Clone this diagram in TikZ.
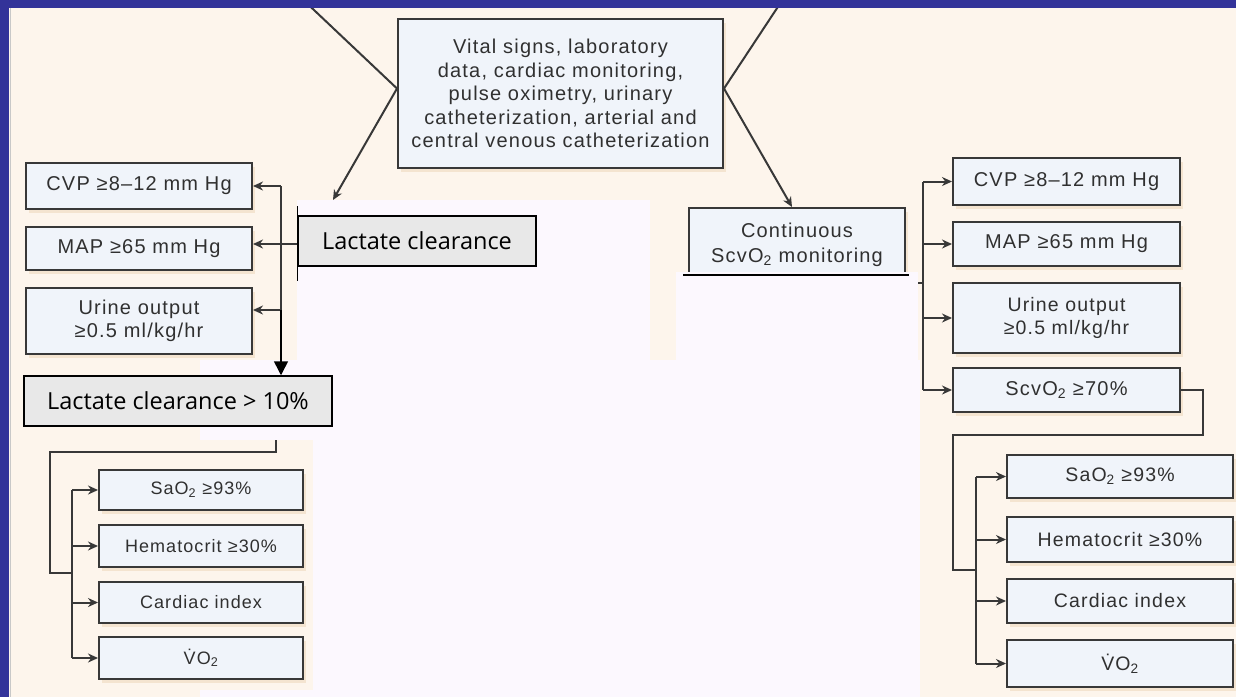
\documentclass[tikz,border=0pt]{standalone}
\usepackage{fontspec}
\setmainfont{Liberation Sans}
\newfontfamily\boxfont[LetterSpace=6.0]{Liberation Sans}
\newfontfamily\lacfont{Open Sans}
\usetikzlibrary{arrows.meta,calc}
\definecolor{frameblue}{HTML}{333399}
\definecolor{beige}{HTML}{FDF5EC}
\definecolor{patch}{HTML}{FCF8FE}
\definecolor{boxfill}{HTML}{F0F4FA}
\definecolor{boxline}{HTML}{383838}
\definecolor{textgray}{HTML}{303030}
\definecolor{shadowc}{HTML}{F4E4D0}
\definecolor{lacgray}{HTML}{E8E8E8}
\definecolor{edgegray}{HTML}{C8C8C8}
\tikzset{
  wh/.style 2 args={minimum width=#1pt, minimum height=#2pt},
  obox/.style={draw=boxline, line width=2pt, fill=boxfill, inner sep=0pt, align=center,
    text=textgray, preaction={draw=none, fill=shadowc, transform canvas={xshift=3pt, yshift=-4pt}}},
  fbig/.style={font=\boxfont\fontsize{20}{23.5}\selectfont},
  fsmall/.style={font=\boxfont\fontsize{18}{22}\selectfont},
  fmid/.style={font=\boxfont\fontsize{19.5}{23}\selectfont},
  lbox/.style={draw=black, line width=1.5pt, fill=lacgray, inner sep=0pt,
    font=\lacfont\fontsize{23.5}{28}\selectfont},
  oline/.style={draw=boxline, line width=2pt},
  oarr/.style={oline, -{Stealth[length=10pt,width=9pt]}},
  nline/.style={draw=black, line width=1.5pt},
  narr/.style={nline, -{Triangle[length=14pt,width=14pt]}},
  patchr/.style={fill=patch, draw=none},
}
\begin{document}
\begin{tikzpicture}[x=1pt, y=-1pt]
\useasboundingbox (0,0) rectangle (1236,697);
\fill[beige] (0,0) rectangle (1236,697);

% ---------- original diagram ----------
\node[obox, fbig, wh={325}{149}] (cb) at (560.5,93.5) {Vital signs, laboratory\\data, cardiac monitoring,\\pulse oximetry, urinary\\catheterization, arterial and\\central venous catheterization};
\coordinate (topL) at (303.4,0);
\coordinate (topR) at (782.4,0);
\coordinate (cbL) at ([yshift=5pt]cb.west);
\coordinate (cbR) at ([yshift=5pt]cb.east);
\coordinate (lat) at (333,200);
\draw[oline] (topL) -- (cbL);
\draw[oline] (topR) -- (cbR);
\draw[oarr] (cbL) -- (lat);

\node[obox, fbig, wh={216}{74}] (cont) at (797,245) {Continuous\\[1.5pt]ScvO\textsubscript{2} monitoring};
\draw[oarr] (cbR) -- ([xshift=-5pt]cont.north);

% left column
\node[obox, fbig, wh={226}{46}] (lcvp) at (139,186) {CVP ≥8–12 mm Hg};
\node[obox, fbig, wh={226}{43}] (lmap) at (139,248.5) {MAP ≥65 mm Hg};
\node[obox, fbig, wh={226}{66}] (lur) at (139,321) {Urine output\\≥0.5 ml/kg/hr};
\coordinate (lvt) at (281,186);
\coordinate (lvb) at (281,310);
\draw[oline] (lvt) -- (lvb);
\draw[oarr] (lvt) -- (lcvp.east);
\draw[oarr] (lvb) -- (lvb -| lur.east);

% right column
\node[obox, fbig, wh={227}{47}] (rcvp) at (1066.5,181.5) {CVP ≥8–12 mm Hg};
\node[obox, fbig, wh={227}{44}] (rmap) at (1066.5,244) {MAP ≥65 mm Hg};
\node[obox, fmid, wh={227}{70}] (rur) at (1066.5,318) {Urine output\\≥0.5 ml/kg/hr};
\node[obox, fbig, wh={227}{44}] (rscv) at (1066.5,390) {ScvO\textsubscript{2} ≥70\%};
\coordinate (rv) at (923,0);
\draw[oline] (rv |- rcvp.west) -- (rv |- rscv.west);
\draw[oarr] (rv |- rcvp.west) -- (rcvp.west);
\draw[oarr] (rv |- rmap.west) -- (rmap.west);
\draw[oarr] (rv |- rur.west) -- (rur.west);
\draw[oarr] (rv |- rscv.west) -- (rscv.west);
\coordinate (stub) at (915,283);
\draw[oline] (stub) -- (rv |- stub);

% lower right
\node[obox, fmid, wh={226}{43}] (rsa) at (1120,476.5) {SaO\textsubscript{2} ≥93\%};
\node[obox, fmid, wh={226}{45}] (rhe) at (1120,539.5) {Hematocrit ≥30\%};
\node[obox, fmid, wh={226}{44}] (rci) at (1120,601) {Cardiac index};
\node[obox, fmid, wh={226}{47}] (rvo) at (1120,663.5) {V̇O\textsubscript{2}};
\coordinate (rlv) at (976,0);
\draw[oline] (rscv.east) -- (1203,390) -- (1203,435) -- (953,435) -- (953,570) -- (rlv |- 0,570);
\draw[oline] (rlv |- rsa.west) -- (rlv |- rvo.west);
\draw[oarr] (rlv |- rsa.west) -- (rsa.west);
\draw[oarr] (rlv |- rhe.west) -- (rhe.west);
\draw[oarr] (rlv |- rci.west) -- (rci.west);
\draw[oarr] (rlv |- rvo.west) -- (rvo.west);

% lower left
\node[obox, fsmall, wh={204}{40}] (lsa) at (201,490) {SaO\textsubscript{2} ≥93\%};
\node[obox, fsmall, wh={204}{42}] (lhe) at (201,546) {Hematocrit ≥30\%};
\node[obox, fsmall, wh={204}{41}] (lci) at (201,602.5) {Cardiac index};
\node[obox, fsmall, wh={204}{42}] (lvo) at (201,658) {V̇O\textsubscript{2}};
\coordinate (llv) at (72,0);
\coordinate (lstart) at (276,438);
\draw[oline] (lstart) -- (276,452) -- (50,452) -- (50,573) -- (llv |- 0,573);
\draw[oline] (llv |- lsa.west) -- (llv |- lvo.west);
\draw[oarr] (llv |- lsa.west) -- (lsa.west);
\draw[oarr] (llv |- lhe.west) -- (lhe.west);
\draw[oarr] (llv |- lci.west) -- (lci.west);
\draw[oarr] (llv |- lvo.west) -- (lvo.west);

% ---------- white patches ----------
\fill[patchr] (297,200) rectangle (650,361);
\fill[patchr] (676,272) rectangle (918,368);
\fill[patchr] (313,360) rectangle (920,697);
\fill[patchr] (200,360) rectangle (313,440);
\fill[patchr] (200,690) rectangle (313,697);

% ---------- added elements ----------
\node[lbox, wh={238}{50}] (lc) at (417,241) {Lactate clearance};
\node[lbox, wh={308}{50}] (ln10) at (178,401) {Lactate clearance > 10\%};
\draw[nline] ([yshift=9pt]lc.north west) -- ([yshift=-14pt]lc.south west);
\draw[oarr] ([yshift=-3pt]lc.west) -- ([yshift=-3pt]lc.west -| lmap.east);
\draw[narr] (lvb) -- (lvb |- ln10.north);
\draw[nline] ([xshift=-5pt, yshift=8pt]cont.south west) -- ([xshift=3pt, yshift=8pt]cont.south east);

% ---------- frame ----------
\fill[frameblue] (0,0) rectangle (1236,8);
\fill[frameblue] (0,0) rectangle (9,697);
\draw[edgegray, line width=1.5pt] (10.5,8) -- (10.5,697);
\end{tikzpicture}
\end{document}
